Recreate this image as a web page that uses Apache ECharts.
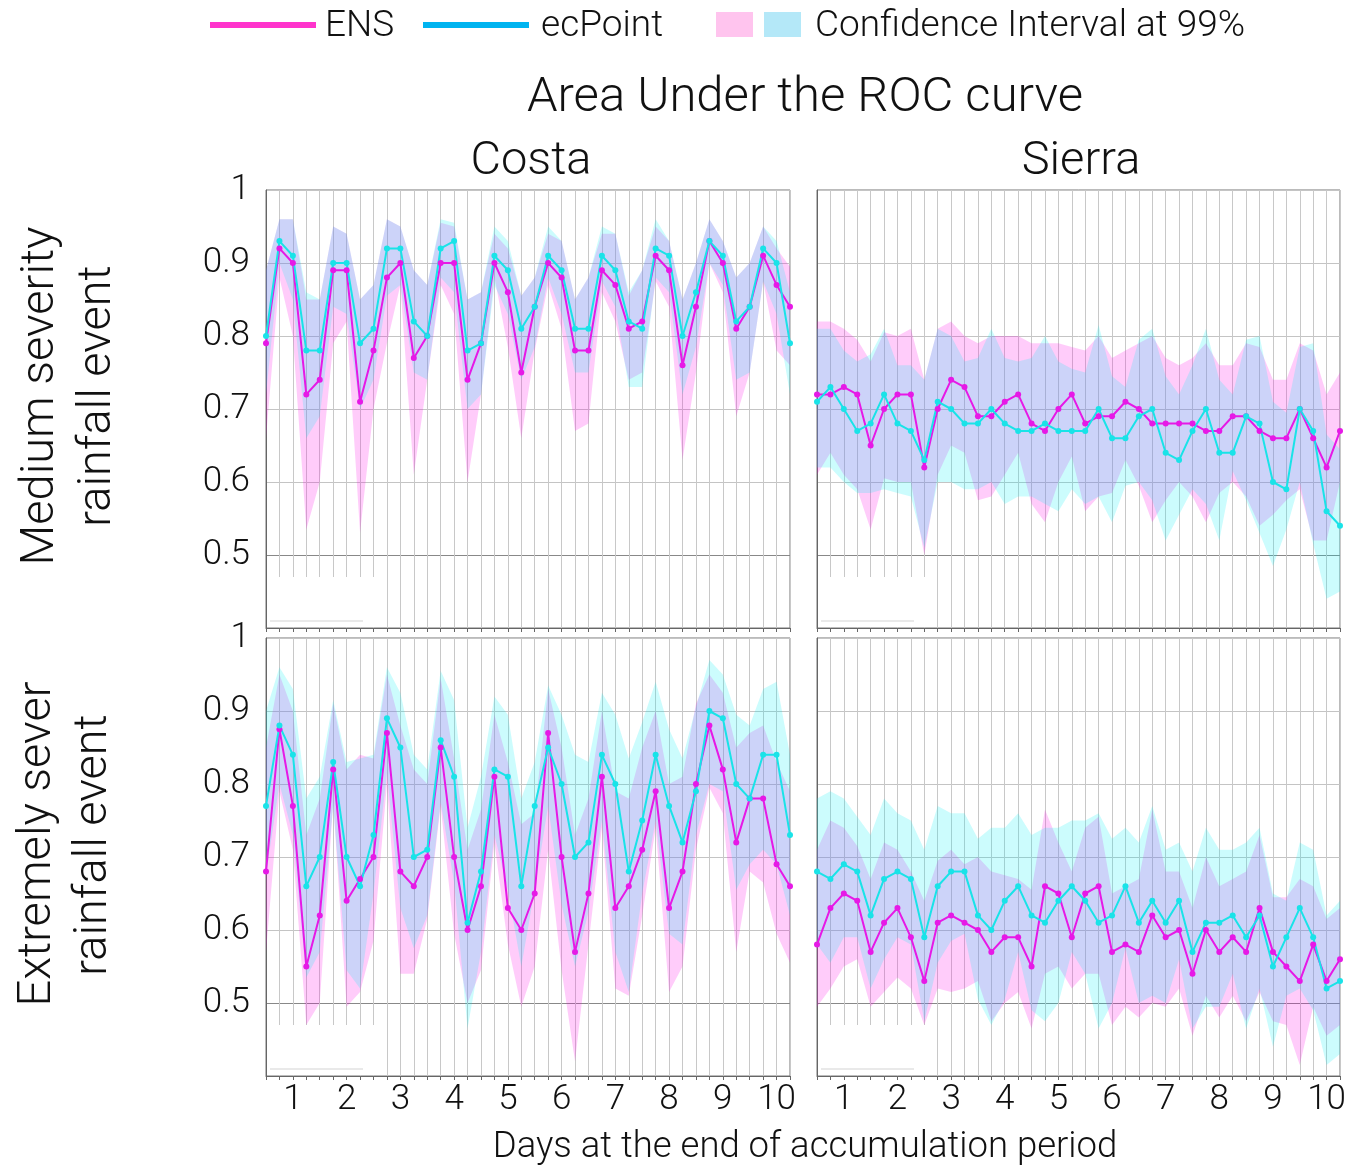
<!DOCTYPE html>
<html>
<head>
<meta charset="utf-8">
<title>Area Under the ROC curve</title>
<script src="https://cdn.jsdelivr.net/npm/echarts@6/dist/echarts.min.js"></script>
<style>
  html, body { margin: 0; padding: 0; background: #fff; }
  #chart { width: 1351px; height: 1167px; }
</style>
</head>
<body>
<div id="chart"></div>
<script>
// lead time (hours) at the end of the accumulation period
const leadHours = [12, 18, 24, 30, 36, 42, 48, 54, 60, 66, 72, 78, 84, 90, 96, 102, 108, 114, 120, 126,
  132, 138, 144, 150, 156, 162, 168, 174, 180, 186, 192, 198, 204, 210, 216, 222, 228, 234, 240, 246]
const yTicks = [0.5, 0.6, 0.7, 0.8, 0.9, 1]

// Costa - medium severity
const costaMedEns = [0.79, 0.92, 0.90, 0.72, 0.74, 0.89, 0.89, 0.71, 0.78, 0.88, 0.90, 0.77, 0.80, 0.90, 0.90, 0.74, 0.79, 0.90, 0.86, 0.75,
  0.84, 0.90, 0.88, 0.78, 0.78, 0.89, 0.87, 0.81, 0.82, 0.91, 0.89, 0.76, 0.84, 0.93, 0.90, 0.81, 0.84, 0.91, 0.87, 0.84]
const costaMedEnsLo = [0.66, 0.88, 0.80, 0.535, 0.60, 0.79, 0.82, 0.53, 0.70, 0.79, 0.87, 0.61, 0.74, 0.87, 0.83, 0.60, 0.72, 0.88, 0.785, 0.66,
  0.78, 0.87, 0.81, 0.67, 0.68, 0.86, 0.82, 0.74, 0.75, 0.875, 0.84, 0.63, 0.75, 0.90, 0.86, 0.69, 0.75, 0.875, 0.78, 0.76]
const costaMedEnsHi = [0.89, 0.96, 0.96, 0.85, 0.85, 0.95, 0.94, 0.85, 0.87, 0.96, 0.95, 0.89, 0.87, 0.955, 0.95, 0.85, 0.86, 0.94, 0.92, 0.855,
  0.88, 0.94, 0.93, 0.85, 0.88, 0.94, 0.94, 0.855, 0.89, 0.95, 0.93, 0.85, 0.90, 0.96, 0.93, 0.88, 0.90, 0.95, 0.92, 0.895]
const costaMedEc = [0.80, 0.93, 0.91, 0.78, 0.78, 0.90, 0.90, 0.79, 0.81, 0.92, 0.92, 0.82, 0.80, 0.92, 0.93, 0.78, 0.79, 0.91, 0.89, 0.81,
  0.84, 0.91, 0.89, 0.81, 0.81, 0.91, 0.89, 0.82, 0.81, 0.92, 0.91, 0.80, 0.86, 0.93, 0.91, 0.82, 0.84, 0.92, 0.90, 0.79]
const costaMedEcLo = [0.72, 0.90, 0.85, 0.66, 0.69, 0.84, 0.83, 0.70, 0.74, 0.855, 0.87, 0.75, 0.74, 0.88, 0.86, 0.70, 0.72, 0.87, 0.83, 0.74,
  0.785, 0.88, 0.83, 0.75, 0.75, 0.875, 0.84, 0.73, 0.73, 0.88, 0.86, 0.72, 0.785, 0.90, 0.87, 0.74, 0.75, 0.875, 0.83, 0.72]
const costaMedEcHi = [0.89, 0.96, 0.96, 0.86, 0.85, 0.95, 0.94, 0.85, 0.87, 0.96, 0.95, 0.89, 0.87, 0.96, 0.955, 0.85, 0.86, 0.95, 0.93, 0.855,
  0.88, 0.95, 0.93, 0.85, 0.88, 0.95, 0.94, 0.86, 0.89, 0.96, 0.93, 0.85, 0.90, 0.96, 0.93, 0.88, 0.90, 0.95, 0.93, 0.86]

// Sierra - medium severity
const sierraMedEns = [0.72, 0.72, 0.73, 0.72, 0.65, 0.70, 0.72, 0.72, 0.62, 0.70, 0.74, 0.73, 0.69, 0.69, 0.71, 0.72, 0.68, 0.67, 0.70, 0.72,
  0.68, 0.69, 0.69, 0.71, 0.70, 0.68, 0.68, 0.68, 0.68, 0.67, 0.67, 0.69, 0.69, 0.67, 0.66, 0.66, 0.70, 0.66, 0.62, 0.67]
const sierraMedEnsLo = [0.61, 0.64, 0.61, 0.59, 0.535, 0.605, 0.60, 0.60, 0.50, 0.61, 0.65, 0.64, 0.575, 0.58, 0.61, 0.64, 0.57, 0.545, 0.60, 0.635,
  0.56, 0.58, 0.585, 0.63, 0.595, 0.545, 0.575, 0.60, 0.58, 0.545, 0.585, 0.60, 0.58, 0.54, 0.555, 0.575, 0.59, 0.52, 0.52, 0.60]
const sierraMedEnsHi = [0.82, 0.82, 0.81, 0.795, 0.765, 0.805, 0.80, 0.81, 0.74, 0.81, 0.82, 0.80, 0.79, 0.80, 0.80, 0.80, 0.79, 0.79, 0.79, 0.785,
  0.78, 0.80, 0.77, 0.78, 0.79, 0.80, 0.77, 0.76, 0.77, 0.79, 0.76, 0.76, 0.79, 0.785, 0.74, 0.74, 0.79, 0.78, 0.72, 0.75]
const sierraMedEc = [0.71, 0.73, 0.70, 0.67, 0.68, 0.72, 0.68, 0.67, 0.63, 0.71, 0.70, 0.68, 0.68, 0.70, 0.68, 0.67, 0.67, 0.68, 0.67, 0.67,
  0.67, 0.70, 0.66, 0.66, 0.69, 0.70, 0.64, 0.63, 0.67, 0.70, 0.64, 0.64, 0.69, 0.68, 0.60, 0.59, 0.70, 0.67, 0.56, 0.54]
const sierraMedEcLo = [0.62, 0.62, 0.60, 0.585, 0.585, 0.59, 0.585, 0.58, 0.51, 0.60, 0.60, 0.59, 0.59, 0.60, 0.57, 0.58, 0.58, 0.57, 0.56, 0.59,
  0.57, 0.58, 0.545, 0.595, 0.60, 0.575, 0.52, 0.555, 0.59, 0.57, 0.52, 0.615, 0.575, 0.53, 0.485, 0.535, 0.60, 0.515, 0.44, 0.45]
const sierraMedEcHi = [0.81, 0.81, 0.78, 0.765, 0.775, 0.81, 0.76, 0.76, 0.74, 0.81, 0.80, 0.765, 0.77, 0.81, 0.77, 0.765, 0.77, 0.80, 0.765, 0.755,
  0.75, 0.815, 0.745, 0.73, 0.795, 0.81, 0.745, 0.72, 0.76, 0.81, 0.74, 0.72, 0.795, 0.80, 0.71, 0.695, 0.785, 0.79, 0.665, 0.645]

// Costa - extremely severe
const costaExtEns = [0.68, 0.875, 0.77, 0.55, 0.62, 0.82, 0.64, 0.67, 0.70, 0.87, 0.68, 0.66, 0.70, 0.85, 0.70, 0.60, 0.66, 0.81, 0.63, 0.60,
  0.65, 0.87, 0.70, 0.57, 0.65, 0.81, 0.63, 0.66, 0.71, 0.79, 0.63, 0.68, 0.80, 0.88, 0.82, 0.72, 0.78, 0.78, 0.69, 0.66]
const costaExtEnsLo = [0.57, 0.79, 0.71, 0.47, 0.50, 0.775, 0.495, 0.515, 0.585, 0.80, 0.54, 0.54, 0.615, 0.77, 0.595, 0.50, 0.545, 0.72, 0.58, 0.495,
  0.55, 0.71, 0.545, 0.42, 0.58, 0.74, 0.52, 0.51, 0.62, 0.74, 0.515, 0.55, 0.71, 0.795, 0.76, 0.57, 0.68, 0.665, 0.595, 0.555]
const costaExtEnsHi = [0.85, 0.95, 0.90, 0.73, 0.78, 0.91, 0.82, 0.84, 0.835, 0.95, 0.88, 0.82, 0.80, 0.945, 0.835, 0.71, 0.765, 0.895, 0.83, 0.745,
  0.76, 0.93, 0.85, 0.73, 0.78, 0.90, 0.79, 0.78, 0.85, 0.90, 0.80, 0.81, 0.91, 0.95, 0.925, 0.85, 0.87, 0.88, 0.83, 0.79]
const costaExtEc = [0.77, 0.88, 0.84, 0.66, 0.70, 0.83, 0.70, 0.66, 0.73, 0.89, 0.85, 0.70, 0.71, 0.86, 0.81, 0.61, 0.68, 0.82, 0.81, 0.66,
  0.77, 0.85, 0.80, 0.70, 0.72, 0.84, 0.80, 0.68, 0.75, 0.84, 0.77, 0.72, 0.79, 0.90, 0.89, 0.80, 0.78, 0.84, 0.84, 0.73]
const costaExtEcLo = [0.675, 0.80, 0.73, 0.535, 0.57, 0.77, 0.545, 0.52, 0.65, 0.815, 0.63, 0.575, 0.62, 0.775, 0.665, 0.465, 0.57, 0.73, 0.655, 0.55,
  0.655, 0.77, 0.635, 0.55, 0.625, 0.75, 0.57, 0.515, 0.65, 0.75, 0.595, 0.58, 0.73, 0.80, 0.79, 0.655, 0.69, 0.71, 0.69, 0.62]
const costaExtEcHi = [0.90, 0.96, 0.93, 0.78, 0.81, 0.915, 0.83, 0.835, 0.84, 0.96, 0.925, 0.84, 0.82, 0.955, 0.915, 0.74, 0.81, 0.92, 0.895, 0.78,
  0.83, 0.935, 0.895, 0.84, 0.83, 0.925, 0.895, 0.835, 0.885, 0.94, 0.875, 0.835, 0.905, 0.97, 0.95, 0.895, 0.88, 0.93, 0.94, 0.84]

// Sierra - extremely severe
const sierraExtEns = [0.58, 0.63, 0.65, 0.64, 0.57, 0.61, 0.63, 0.59, 0.53, 0.61, 0.62, 0.61, 0.60, 0.57, 0.59, 0.59, 0.55, 0.66, 0.65, 0.59,
  0.65, 0.66, 0.57, 0.58, 0.57, 0.62, 0.59, 0.60, 0.54, 0.60, 0.57, 0.59, 0.57, 0.63, 0.57, 0.55, 0.53, 0.58, 0.53, 0.56]
const sierraExtEnsLo = [0.495, 0.52, 0.55, 0.56, 0.495, 0.515, 0.535, 0.52, 0.47, 0.52, 0.515, 0.52, 0.53, 0.475, 0.50, 0.515, 0.465, 0.54, 0.55, 0.52,
  0.54, 0.54, 0.47, 0.495, 0.48, 0.50, 0.495, 0.52, 0.455, 0.51, 0.48, 0.51, 0.475, 0.515, 0.475, 0.47, 0.415, 0.495, 0.455, 0.47]
const sierraExtEnsHi = [0.71, 0.75, 0.74, 0.715, 0.67, 0.72, 0.71, 0.68, 0.64, 0.695, 0.71, 0.69, 0.70, 0.68, 0.675, 0.67, 0.655, 0.765, 0.72, 0.68,
  0.74, 0.755, 0.65, 0.66, 0.67, 0.765, 0.68, 0.68, 0.63, 0.70, 0.66, 0.67, 0.68, 0.73, 0.645, 0.645, 0.67, 0.66, 0.615, 0.63]
const sierraExtEc = [0.68, 0.67, 0.69, 0.68, 0.62, 0.67, 0.68, 0.67, 0.59, 0.66, 0.68, 0.68, 0.62, 0.60, 0.64, 0.66, 0.62, 0.61, 0.64, 0.66,
  0.64, 0.61, 0.62, 0.66, 0.61, 0.64, 0.61, 0.64, 0.57, 0.61, 0.61, 0.62, 0.59, 0.62, 0.55, 0.59, 0.63, 0.59, 0.52, 0.53]
const sierraExtEcLo = [0.58, 0.555, 0.59, 0.59, 0.52, 0.56, 0.59, 0.58, 0.475, 0.555, 0.585, 0.595, 0.505, 0.47, 0.505, 0.57, 0.49, 0.475, 0.50, 0.57,
  0.54, 0.465, 0.50, 0.575, 0.50, 0.51, 0.50, 0.56, 0.465, 0.495, 0.495, 0.54, 0.465, 0.52, 0.44, 0.51, 0.52, 0.49, 0.415, 0.43]
const sierraExtEcHi = [0.78, 0.79, 0.78, 0.755, 0.73, 0.78, 0.76, 0.75, 0.71, 0.77, 0.76, 0.76, 0.725, 0.74, 0.74, 0.76, 0.73, 0.74, 0.74, 0.75,
  0.75, 0.76, 0.725, 0.74, 0.72, 0.77, 0.71, 0.72, 0.68, 0.74, 0.71, 0.71, 0.72, 0.74, 0.65, 0.64, 0.72, 0.71, 0.62, 0.64]

const FONT = 'Roboto'
const ENS_COLOR = '#e619e6'
const EC_COLOR = '#19e3e8'
const ENS_BAND = 'rgba(255, 0, 230, 0.2)'
const EC_BAND = 'rgba(0, 240, 245, 0.2)'

// panel layout: TL, TR, BL, BR
const grids = [
  { left: 266, top: 190, width: 524, height: 438 },
  { left: 817, top: 190, width: 523, height: 438 },
  { left: 266, top: 638, width: 524, height: 438 },
  { left: 817, top: 638, width: 523, height: 438 }
]

const panels = [
  { ens: costaMedEns, ensLo: costaMedEnsLo, ensHi: costaMedEnsHi, ec: costaMedEc, ecLo: costaMedEcLo, ecHi: costaMedEcHi },
  { ens: sierraMedEns, ensLo: sierraMedEnsLo, ensHi: sierraMedEnsHi, ec: sierraMedEc, ecLo: sierraMedEcLo, ecHi: sierraMedEcHi },
  { ens: costaExtEns, ensLo: costaExtEnsLo, ensHi: costaExtEnsHi, ec: costaExtEc, ecLo: costaExtEcLo, ecHi: costaExtEcHi },
  { ens: sierraExtEns, ensLo: sierraExtEnsLo, ensHi: sierraExtEnsHi, ec: sierraExtEc, ecLo: sierraExtEcLo, ecHi: sierraExtEcHi }
]

function bandSeries(key, g, lo, hi, color) {
  const width = hi.map((v, i) => +(v - lo[i]).toFixed(4))
  return [
    {
      type: 'line', xAxisIndex: g, yAxisIndex: g, stack: key + g, data: lo,
      symbol: 'none', lineStyle: { opacity: 0 }, silent: true, z: 1
    },
    {
      type: 'line', xAxisIndex: g, yAxisIndex: g, stack: key + g, data: width,
      symbol: 'none', lineStyle: { opacity: 0 }, areaStyle: { color, opacity: 1 }, silent: true, z: 1
    }
  ]
}

function lineSeries(name, g, data, color) {
  return {
    name, type: 'line', xAxisIndex: g, yAxisIndex: g, data,
    symbol: 'circle', symbolSize: 6, showSymbol: true,
    lineStyle: { color, width: 2 }, itemStyle: { color }, z: 3
  }
}

const series = []
panels.forEach((p, g) => {
  series.push(...bandSeries('ens', g, p.ensLo, p.ensHi, ENS_BAND))
  series.push(...bandSeries('ec', g, p.ecLo, p.ecHi, EC_BAND))
  series.push(lineSeries('ENS', g, p.ens, ENS_COLOR))
  series.push(lineSeries('ecPoint', g, p.ec, EC_COLOR))
})

const xAxis = grids.map((gr, g) => ({
  type: 'category',
  gridIndex: g,
  data: leadHours,
  boundaryGap: false,
  axisLine: { onZero: false, lineStyle: { color: '#666' } },
  axisTick: { show: true, interval: 0, length: 4, lineStyle: { color: '#666' } },
  axisLabel: {
    show: g >= 2,
    interval: (idx, val) => Number(val) % 24 === 0,
    formatter: v => String(Number(v) / 24),
    fontSize: 35, fontFamily: FONT, fontWeight: 300, color: '#111', margin: 7
  },
  splitLine: { show: true, interval: 0, lineStyle: { color: '#c8c8c8' } }
}))

const yAxis = grids.map((gr, g) => ({
  type: 'value',
  gridIndex: g,
  min: 0.4,
  max: 1,
  interval: 0.1,
  axisLine: { show: true, lineStyle: { color: '#666' } },
  axisTick: { show: false },
  axisLabel: {
    show: g % 2 === 0,
    formatter: v => {
      const t = yTicks.find(k => Math.abs(k - v) < 1e-6)
      return t === undefined ? '' : (t === 1 ? '1' : t.toFixed(1))
    },
    fontSize: 35, fontFamily: FONT, fontWeight: 300, color: '#111', margin: 16
  },
  splitLine: { show: true, lineStyle: { color: ['#888', '#888', '#c4c4c4', '#c4c4c4', '#c4c4c4', '#c4c4c4', '#c4c4c4'] } }
}))

function text(str, x, y, size, opts) {
  const o = opts || {}
  return {
    type: 'text', x, y, z: 200, rotation: o.rotation || 0,
    style: {
      text: str, fontSize: size, fontFamily: FONT, fontWeight: 300, fill: '#111',
      textAlign: o.align || 'center', textVerticalAlign: 'middle'
    }
  }
}

const graphic = [
  // legend
  { type: 'rect', shape: { x: 210, y: 22, width: 106, height: 6 }, style: { fill: '#ff33cc' } },
  text('ENS', 325, 27, 37, { align: 'left' }),
  { type: 'rect', shape: { x: 423, y: 22, width: 106, height: 6 }, style: { fill: '#00b4f0' } },
  text('ecPoint', 541, 27, 37, { align: 'left' }),
  { type: 'rect', shape: { x: 716, y: 12, width: 37, height: 25 }, style: { fill: '#ffc4ee' } },
  { type: 'rect', shape: { x: 764, y: 12, width: 37, height: 25 }, style: { fill: '#b4e8f8' } },
  text('Confidence Interval at 99%', 815, 27, 37, { align: 'left' }),
  // titles
  text('Area Under the ROC curve', 805, 99, 49),
  text('Costa', 531, 162, 47),
  text('Sierra', 1081, 162, 47),
  text('Days at the end of accumulation period', 805, 1148, 36.5),
  text('Medium severity', 41, 396, 47, { rotation: Math.PI / 2 }),
  text('rainfall event', 98, 396, 47, { rotation: Math.PI / 2 }),
  text('Extremely sever', 38, 844, 47, { rotation: Math.PI / 2 }),
  text('rainfall event', 94, 845, 47, { rotation: Math.PI / 2 })
]

// leftover empty legend boxes in the lower-left corner of every panel
grids.forEach(gr => {
  const bottom = gr.top + gr.height
  graphic.push({ type: 'rect', z: 150, shape: { x: gr.left + 1, y: bottom - 51, width: 107, height: 50 }, style: { fill: '#fff' } })
  graphic.push({ type: 'line', z: 151, shape: { x1: gr.left + 4, y1: bottom - 7, x2: gr.left + 97, y2: bottom - 7 }, style: { stroke: '#e2e2e2', lineWidth: 1.5 } })
})

const chart = echarts.init(document.getElementById('chart'), null, { renderer: 'canvas' })
chart.setOption({
  animation: false,
  backgroundColor: '#fff',
  grid: grids.map(gr => Object.assign({ show: true, borderColor: '#777', borderWidth: 1, containLabel: false }, gr)),
  xAxis,
  yAxis,
  series,
  graphic
})
</script>
</body>
</html>
